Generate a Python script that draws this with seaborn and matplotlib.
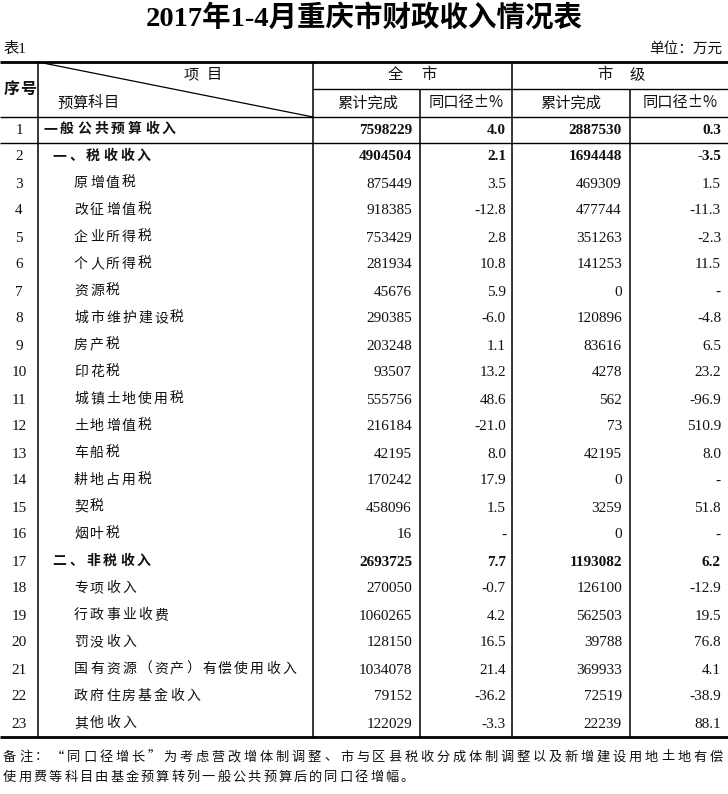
import matplotlib
matplotlib.use("Agg")
import matplotlib.pyplot as plt
import seaborn as sns

sns.set_theme(style="white")
plt.rcParams['font.family'] = ['Noto Sans CJK SC', 'DejaVu Sans']

# ---------------- data ----------------
title = "2017年1-4月重庆市财政收入情况表"
table_no = "表1"
unit = "单位：万元"
seq = list(range(1, 24))
items = ["一般公共预算收入", "一、税收收入", "原增值税", "改征增值税", "企业所得税",
         "个人所得税", "资源税", "城市维护建设税", "房产税", "印花税", "城镇土地使用税",
         "土地增值税", "车船税", "耕地占用税", "契税", "烟叶税", "二、非税收入",
         "专项收入", "行政事业收费", "罚没收入", "国有资源（资产）有偿使用收入",
         "政府住房基金收入", "其他收入"]
levels = [0, 1, 2, 2, 2, 2, 2, 2, 2, 2, 2, 2, 2, 2, 2, 2, 1, 2, 2, 2, 2, 2, 2]
all_total = [7598229, 4904504, 875449, 918385, 753429, 281934, 45676, 290385, 203248,
             93507, 555756, 216184, 42195, 170242, 458096, 16, 2693725, 270050,
             1060265, 128150, 1034078, 79152, 122029]
all_pct = [4.0, 2.1, 3.5, -12.8, 2.8, 10.8, 5.9, -6.0, 1.1, 13.2, 48.6, -21.0, 8.0,
           17.9, 1.5, None, 7.7, -0.7, 4.2, 16.5, 21.4, -36.2, -3.3]
city_total = [2887530, 1694448, 469309, 477744, 351263, 141253, 0, 120896, 83616,
              4278, 562, 73, 42195, 0, 3259, 0, 1193082, 126100, 562503, 39788,
              369933, 72519, 22239]
city_pct = [0.3, -3.5, 1.5, -11.3, -2.3, 11.5, None, -4.8, 6.5, 23.2, -96.9, 510.9,
            8.0, None, 51.8, None, 6.2, -12.9, 19.5, 76.8, 4.1, -38.9, 88.1]
note_lines = ["备注：“同口径增长”为考虑营改增体制调整、市与区县税收分成体制调整以及新增建设用地土地有偿",
              "使用费等科目由基金预算转列一般公共预算后的同口径增幅。"]

# ---------------- layout ----------------
W, H = 728, 794
fig = plt.figure(figsize=(W / 100, H / 100), dpi=100)
ax = fig.add_axes([0, 0, 1, 1])
ax.set_xlim(0, W)
ax.set_ylim(H, 0)
ax.axis('off')
sns.despine(ax=ax, left=True, bottom=True)

CJK = ['Noto Sans CJK SC', 'DejaVu Sans']
SERIF = ['Liberation Serif', 'Noto Sans CJK SC']
ink = '#111111'


def spaced(x, y, s, pitch, size, weight='normal', ha='left', color=ink):
    """Draw CJK string char-by-char on a fixed pitch (each glyph centred in its cell)."""
    n = len(s)
    em = size * 100 / 72.0
    if ha == 'center':
        x0 = x - (pitch * (n - 1)) / 2.0
    else:
        x0 = x + em / 2.0
    for k, ch in enumerate(s):
        ax.text(x0 + k * pitch, y, ch, ha='center', va='center', fontsize=size,
                family=CJK, weight=weight, color=color)


# title & captions
ax.text(W / 2, 18, title, ha='center', va='center', fontsize=20.5, weight='bold',
        family=SERIF, color='black')
ax.text(3, 49, table_no, ha='left', va='center', fontsize=11, family=SERIF, color=ink)
ax.text(722, 49, unit, ha='right', va='center', fontsize=10.5, family=CJK, color=ink)

# grid
top, hmid, hbot, r1b, bottom = 62, 89, 117, 143, 737
x_seq, x_item, x_c1, x_c2, x_c3 = 38, 313, 420, 512, 630
ax.hlines([top, bottom], 0, W, color='black', lw=2.0)
ax.hlines([hbot, r1b], 0, W, color='black', lw=1.0)
ax.hlines(hmid, x_item, W, color='black', lw=1.0)
ax.vlines([x_seq, x_item, x_c2], top, bottom, color='black', lw=1.1)
ax.vlines([x_c1, x_c3], hmid, bottom, color='black', lw=1.1)
ax.plot([x_seq, x_item], [top, hbot], color='black', lw=0.9)

# header text
spaced(20, 89, "序号", 16.5, 11.5, weight='bold', ha='center')
spaced(203, 75, "项目", 23, 11, ha='center')
spaced(412, 75, "全市", 33, 11, ha='center')
spaced(621, 75, "市级", 33, 11, ha='center')
spaced(57, 103, "预算科目", 15.5, 11)
for cx, lab in [(368, "累计完成"), (466, "同口径±%"), (571, "累计完成"), (680, "同口径±%")]:
    ax.text(cx, 103, lab, ha='center', va='center', fontsize=11, family=CJK, color=ink)

# body rows
row0, dy = 129, 27
item_x = {0: 43, 1: 52, 2: 74}
item_pitch = {0: 17, 1: 17, 2: 16}


def fmt_pct(v):
    return "-" if v is None else f"{v:.1f}"


for i in range(len(seq)):
    y = row0 + dy * i + 1
    bold = levels[i] < 2
    w = 'bold' if bold else 'normal'
    ax.text(19, y, str(seq[i]), ha='center', va='center', fontsize=11, family=SERIF, color=ink)
    spaced(item_x[levels[i]], y - 1, items[i], item_pitch[levels[i]], 10,
           weight=w)
    ax.text(412, y, f"{all_total[i]}", ha='right', va='center', fontsize=11,
            family=SERIF, weight=w, color=ink)
    ax.text(506, y, fmt_pct(all_pct[i]), ha='right', va='center', fontsize=11,
            family=SERIF, weight=w, color=ink)
    ax.text(622, y, f"{city_total[i]}", ha='right', va='center', fontsize=11,
            family=SERIF, weight=w, color=ink)
    ax.text(721, y, fmt_pct(city_pct[i]), ha='right', va='center', fontsize=11,
            family=SERIF, weight=w, color=ink)

# footnote
spaced(3, 757, note_lines[0], 16.05, 9.5)
spaced(3, 777, note_lines[1], 15.3, 9.5)

fig.savefig("out.png", dpi=100, facecolor='white')
